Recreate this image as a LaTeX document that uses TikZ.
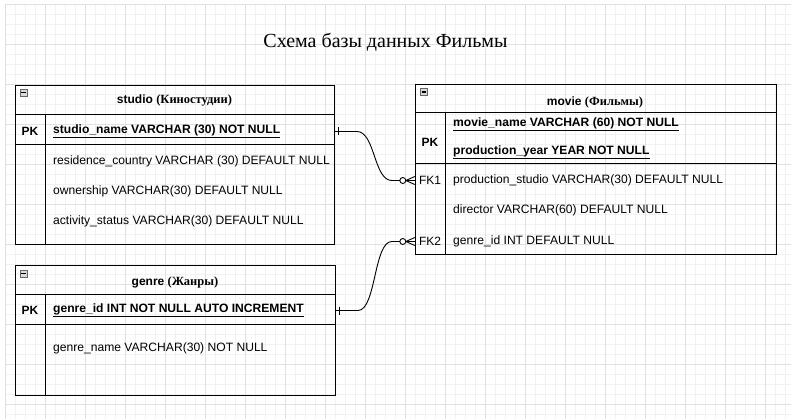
\documentclass[tikz,border=0pt]{standalone}
\usepackage{fontspec}
\setmainfont{Liberation Sans}
\newfontfamily\serifcyr{Liberation Serif}
\usetikzlibrary{positioning,calc}
\definecolor{gridminor}{HTML}{F1F1F1}
\definecolor{gridmajor}{HTML}{E0E0E0}
\tikzset{
  tablebox/.style = {draw=black, line width=1pt, anchor=north west, inner sep=0pt},
  tablehead/.style = {inner sep=0pt, yshift=-1pt, font=\fontsize{12}{14}\selectfont\bfseries},
  keycell/.style = {minimum width=30pt, inner sep=0pt, yshift=-1.5pt, font=\fontsize{12}{14}\selectfont},
  field/.style = {anchor=west, inner sep=0pt, yshift=-1.5pt, font=\fontsize{12.1}{14}\selectfont},
  minusbox/.style = {draw=gray!80!black, fill=gray!30, minimum size=7pt, inner sep=0pt, line width=0.8pt},
  relation/.style = {draw=black, line width=0.9pt}
}
\newcommand{\collapse}[1]{%
  \node [minusbox] at (#1) {};
  \draw [line width=1.3pt] ($(#1)+(-2.2,0)$) -- ($(#1)+(2.2,0)$);}
\begin{document}
\begin{tikzpicture}[x=1pt, y=-1pt]
  \useasboundingbox (0,0) rectangle (791,419);
  \foreach \x in {5,15,...,785} \draw [gridminor, line width=0.8pt] (\x,4) -- (\x,419);
  \foreach \y in {4,14,...,414} \draw [gridminor, line width=0.8pt] (5,\y) -- (791,\y);
  \foreach \x in {5,45,...,785} \draw [gridmajor, line width=0.8pt] (\x,4) -- (\x,419);
  \foreach \y in {4,44,...,404} \draw [gridmajor, line width=0.8pt] (5,\y) -- (791,\y);

  \node [font=\serifcyr\fontsize{20}{22}\selectfont] (title) at (385.5,42) {Схема базы данных Фильмы};

  % studio
  \node [tablebox, minimum width=319pt, minimum height=159pt] (studio) at (15,85) {};
  \draw [line width=1pt] (15,115) -- (334,115);
  \draw [line width=1pt] (15,145) -- (334,145);
  \draw [line width=1pt] (45,115) -- (45,244);
  \collapse{23.5,92.5}
  \node [tablehead] (studiotitle) at (174.5,100) {studio {\serifcyr\bfseries\fontsize{12.5}{14}\selectfont (Киностудии)}};
  \node [keycell, font=\fontsize{12}{14}\selectfont\bfseries] (studiopk) at (30,130) {PK};
  \node [field, font=\fontsize{12.1}{14}\selectfont\bfseries] (studioname) at (53,130) {\underline{studio\_name VARCHAR (30) NOT NULL}};
  \node [field] (country) at (53,160) {residence\_country VARCHAR (30) DEFAULT NULL};
  \node [field] (ownership) at (53,190) {ownership VARCHAR(30) DEFAULT NULL};
  \node [field] (status) at (53,220) {activity\_status VARCHAR(30) DEFAULT NULL};

  % genre
  \node [tablebox, minimum width=320pt, minimum height=130pt] (genre) at (15,264.5) {};
  \draw [line width=1pt] (15,294) -- (335,294);
  \draw [line width=1pt] (15,324) -- (335,324);
  \draw [line width=1pt] (45,294) -- (45,394.5);
  \collapse{23.5,273.5}
  \node [tablehead] (genretitle) at (175,281) {genre {\serifcyr\bfseries\fontsize{12.5}{14}\selectfont (Жанры)}};
  \node [keycell, font=\fontsize{12}{14}\selectfont\bfseries] (genrepk) at (30,309) {PK};
  \node [field, font=\fontsize{12.1}{14}\selectfont\bfseries] (genreid) at (53,309) {\underline{genre\_id INT NOT NULL AUTO INCREMENT}};
  \node [field] (genrename) at (53,347) {genre\_name VARCHAR(30) NOT NULL};

  % movie
  \node [tablebox, minimum width=361pt, minimum height=170pt] (movie) at (415,84) {};
  \draw [line width=1pt] (415,113) -- (776,113);
  \draw [line width=1pt] (415,164) -- (776,164);
  \draw [line width=1pt] (445,113) -- (445,254);
  \collapse{424,92}
  \node [tablehead] (movietitle) at (595,101) {movie {\serifcyr\bfseries\fontsize{12.5}{14}\selectfont (Фильмы)}};
  \node [keycell, font=\fontsize{12}{14}\selectfont\bfseries] (moviepk) at (430,141) {PK};
  \node [field, font=\fontsize{12.1}{14}\selectfont\bfseries] (moviename) at (453,123) {\underline{movie\_name VARCHAR (60) NOT NULL}};
  \node [field, font=\fontsize{12.1}{14}\selectfont\bfseries] (year) at (453,151) {\underline{production\_year YEAR NOT NULL}};
  \node [keycell] (fkone) at (430,179) {FK1};
  \node [field] (prodstudio) at (453,179) {production\_studio VARCHAR(30) DEFAULT NULL};
  \node [field] (director) at (453,209) {director VARCHAR(60) DEFAULT NULL};
  \node [keycell] (fktwo) at (430,240) {FK2};
  \node [field] (genrefk) at (453,240) {genre\_id INT DEFAULT NULL};

  % relations
  \draw [relation] (studio.east |- studiopk) -- ++(22,0)
    .. controls +(18,0) and +(-18,0) .. ($(fkone.west)+(-23,0)$) -- ($(fkone.west)+(-15,0)$);
  \draw [relation] (genre.east |- genrepk) -- ++(22,0)
    .. controls +(18,0) and +(-18,0) .. ($(fktwo.west)+(-23,0)$) -- ($(fktwo.west)+(-15,0)$);
  \foreach \e/\s in {fkone/studio, fktwo/genre} {
    \draw [relation] ($(\e.west)+(-9,0)$) -- ($(\e.west)+(0,-4)$);
    \draw [relation] ($(\e.west)+(-9,0)$) -- ($(\e.west)+(0,4)$);
    \draw [relation] ($(\e.west)+(-9,0)$) -- (\e.west);
    \draw [relation, fill=white] ($(\e.west)+(-12,0)$) circle [radius=3pt];
  }
  \draw [relation] ($(studio.east |- studiopk)+(3,-4)$) -- ++(0,8);
  \draw [relation] ($(genre.east |- genrepk)+(3,-4)$) -- ++(0,8);
\end{tikzpicture}
\end{document}
